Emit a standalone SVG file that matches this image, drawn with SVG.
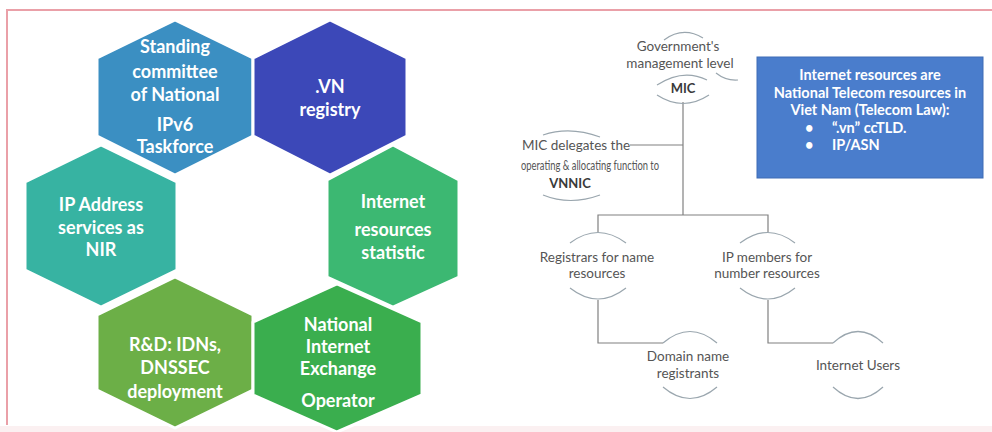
<svg xmlns="http://www.w3.org/2000/svg" width="992" height="432" viewBox="0 0 992 432">
<style>
.hex{stroke:#ffffff;stroke-width:3;stroke-linejoin:round}
.ht{font-family:Lato,"Open Sans","Liberation Sans",sans-serif;font-weight:bold;font-size:18px;fill:#ffffff;text-anchor:middle}
.tt{font-family:Lato,"Open Sans","Liberation Sans",sans-serif;font-size:13.5px;fill:#555555;text-anchor:middle}
.tb{font-family:Lato,"Open Sans","Liberation Sans",sans-serif;font-size:13px;font-weight:bold;fill:#3a3a3a;text-anchor:middle}
.bx{font-family:Lato,"Open Sans","Liberation Sans",sans-serif;font-size:14.5px;font-weight:bold;fill:#ffffff}
.arc{fill:none;stroke:#9aa6ae;stroke-width:1.2}
.ln{fill:none;stroke:#808080;stroke-width:1.2}
</style>
<rect x="0" y="0" width="992" height="432" fill="#ffffff"/>
<rect x="0" y="426" width="992" height="6" fill="#fbf0f1"/>
<path d="M7,425 V10 H992" fill="none" stroke="#eaa0a8" stroke-width="2"/>

<g id="hex-standing">
<polygon class="hex" fill="#3b8fc2" points="175,20 253,58 253,136 175,175 97,136 97,58"/>
<text class="ht" x="175" y="53">Standing</text>
<text class="ht" x="175" y="78">committee</text>
<text class="ht" x="175" y="101">of National</text>
<text class="ht" x="175" y="131">IPv6</text>
<text class="ht" x="175" y="153">Taskforce</text>
</g>
<g id="hex-vn">
<polygon class="hex" fill="#3c48b8" points="330,20 407,58 407,136 330,175 253,136 253,58"/>
<text class="ht" x="330" y="93">.VN</text>
<text class="ht" x="330" y="116">registry</text>
</g>
<g id="hex-ip">
<polygon class="hex" fill="#37b3a2" points="101,145 177,182 177,270 101,307 25,270 25,182"/>
<text class="ht" x="101" y="211">IP Address</text>
<text class="ht" x="101" y="234">services as</text>
<text class="ht" x="101" y="256">NIR</text>
</g>
<g id="hex-stat">
<polygon class="hex" fill="#3cb872" points="393,145 459,180 459,277 393,307 327,277 327,180"/>
<text class="ht" x="393" y="208">Internet</text>
<text class="ht" x="393" y="236">resources</text>
<text class="ht" x="393" y="259">statistic</text>
</g>
<g id="hex-rd">
<polygon class="hex" fill="#6caf47" points="175,277 253,315 253,390 175,428 97,390 97,315"/>
<text class="ht" x="175" y="351">R&amp;D: IDNs,</text>
<text class="ht" x="175" y="374">DNSSEC</text>
<text class="ht" x="175" y="398">deployment</text>
</g>
<g id="hex-nix">
<polygon class="hex" fill="#3aae4e" points="337,284 422,322 422,395 337,432 253,395 253,322"/>
<text class="ht" x="338" y="331">National</text>
<text class="ht" x="338" y="353">Internet</text>
<text class="ht" x="338" y="375">Exchange</text>
<text class="ht" x="338" y="407">Operator</text>
</g>

<g id="connectors">
<path class="ln" d="M683,102 V215"/>
<path class="ln" d="M630,145 H683"/>
<path class="ln" d="M598,232 V215 H768 V232"/>
<path class="ln" d="M598,300 V343 H663"/>
<path class="ln" d="M768,300 V343 H833"/>
</g>

<g id="node-mic">
<path class="arc" d="M664,40 Q683,26 703,38"/>
<path class="arc" d="M716,73 Q726,81 738,80"/>
<path class="arc" d="M657,85 Q683,68 707,80"/>
<path class="arc" d="M657,95 Q683,112 709,95"/>
<text class="tt" x="678" y="51">Government's</text>
<text class="tt" x="680" y="68">management level</text>
<text class="tb" x="683" y="93">MIC</text>
</g>
<g id="node-vnnic">
<path class="arc" d="M543,135 Q570,126 600,137"/>
<path class="arc" d="M543,195 Q570,206 600,195"/>
<text class="tt" x="576" y="150">MIC delegates the</text>
<text class="tt" x="590" y="170" font-size="11" textLength="138" lengthAdjust="spacingAndGlyphs">operating &amp; allocating function to</text>
<text class="tb" x="570" y="188">VNNIC</text>
</g>
<g id="node-registrars">
<path class="arc" d="M570,243 Q598,222 626,243"/>
<path class="arc" d="M570,288 Q598,310 626,288"/>
<text class="tt" x="597" y="262">Registrars for name</text>
<text class="tt" x="597" y="278">resources</text>
</g>
<g id="node-ipmembers">
<path class="arc" d="M740,243 Q768,222 795,243"/>
<path class="arc" d="M740,288 Q768,310 795,288"/>
<text class="tt" x="767" y="262">IP members for</text>
<text class="tt" x="767" y="278">number resources</text>
</g>
<g id="node-domain">
<path class="arc" d="M663,343 Q690,320 717,343"/>
<path class="arc" d="M663,387 Q690,410 717,387"/>
<text class="tt" x="688" y="361">Domain name</text>
<text class="tt" x="688" y="378">registrants</text>
</g>
<g id="node-users">
<path class="arc" d="M833,343 Q858,320 883,343"/>
<path class="arc" d="M833,387 Q858,410 883,387"/>
<text class="tt" x="858" y="370">Internet Users</text>
</g>

<g id="box-info">
<rect x="757" y="57" width="226" height="121" fill="#4a7dcc" stroke="#3e6db5" stroke-width="1"/>
<text class="bx" x="870" y="80" text-anchor="middle">Internet resources are</text>
<text class="bx" x="870" y="98" text-anchor="middle">National Telecom resources in</text>
<text class="bx" x="870" y="115" text-anchor="middle">Viet Nam (Telecom Law):</text>
<text class="bx" x="805" y="133">•</text>
<text class="bx" x="832" y="133">“.vn” ccTLD.</text>
<text class="bx" x="805" y="150">•</text>
<text class="bx" x="832" y="150">IP/ASN</text>
</g>
</svg>
